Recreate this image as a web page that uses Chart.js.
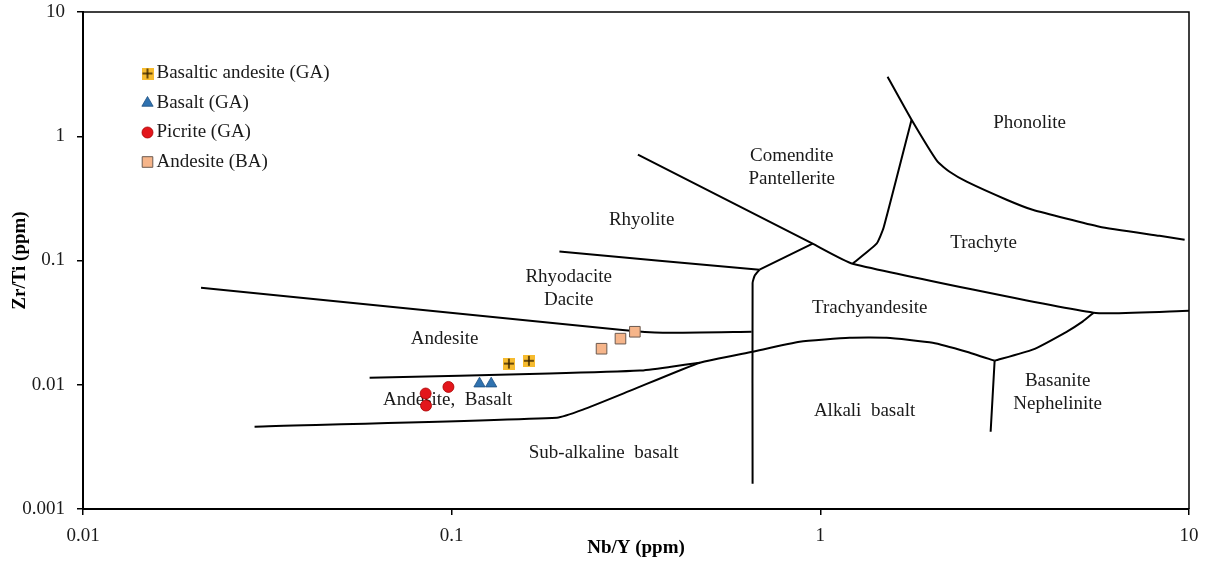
<!DOCTYPE html>
<html>
<head>
<meta charset="utf-8">
<script src="https://cdn.jsdelivr.net/npm/chart.js@4.4.0/dist/chart.umd.min.js"></script>
<style>
    html, body { margin: 0; padding: 0; background: #fff; }
</style>
</head>
<body>
<canvas id="graph" width="1211" height="565"></canvas>
<script>
// Деления осей
const xTickValues = [0.01, 0.1, 1, 10];
const xTickLabels = ['0.01', '0.1', '1', '10'];
const yTickValues = [0.001, 0.01, 0.1, 1, 10];
const yTickLabels = ['0.001', '0.01', '0.1', '1', '10'];

// Образцы: Nb/Y, Zr/Ti
const basalticAndesiteGA = [[0.143, 0.0148], [0.162, 0.0156]];
const basaltGA = [[0.119, 0.0102], [0.128, 0.0102]];
const picriteGA = [[0.085, 0.0085], [0.0852, 0.0068], [0.098, 0.0096]];
const andesiteBA = [[0.255, 0.0195], [0.287, 0.0235], [0.314, 0.0267]];

// Границы полей (Winchester & Floyd)
const lineAndesiteTop = [[0.0209, 0.0604], [0.286, 0.0277], [0.374, 0.0262], [0.651, 0.0267]];
const lineRhyolite = [[0.196, 0.118], [0.684, 0.0843]];
const lineComendite = [[0.320, 0.710], [0.953, 0.1365], [1.223, 0.0942], [5.51, 0.0380], [10, 0.0394]];
const lineDaciteTrachy = [[0.684, 0.0843], [0.953, 0.1365]];
const lineAlkaliVertical = [[0.684, 0.0843], [0.6635, 0.0754], [0.655, 0.066], [0.655, 0.0016]];
const lineTrachyte = [[1.223, 0.0942], [1.421, 0.1365], [1.485, 0.184], [1.768, 1.359]];
const linePhonolite = [[1.522, 3.015], [1.768, 1.359], [2.080, 0.624], [2.242, 0.518], [2.494, 0.431],
    [3.201, 0.3085], [3.765, 0.256], [5.72, 0.187], [8.32, 0.158], [9.73, 0.147]];
const lineSubAlkaline = [[0.0292, 0.0046], [0.193, 0.00543], [0.227, 0.0063], [0.310, 0.00913], [0.471, 0.01505],
    [0.655, 0.01845], [0.879, 0.0222], [1.201, 0.0239], [1.513, 0.0239], [2.017, 0.0218], [2.494, 0.01845], [2.970, 0.0156]];
const lineBasanite = [[2.970, 0.0156], [3.765, 0.01915], [4.656, 0.0267], [5.144, 0.0322], [5.51, 0.0380]];
const lineNephelinite = [[2.970, 0.0156], [2.897, 0.00419]];
const lineAndesiteBasalt = [[0.0599, 0.0114], [0.184, 0.0123], [0.324, 0.0130], [0.390, 0.0139], [0.471, 0.01505]];

// Названия полей и точки привязки (Nb/Y, Zr/Ti)
const zoneNames = ['Phonolite', ['Comendite', 'Pantellerite'], 'Rhyolite', ['Rhyodacite', 'Dacite'], 'Trachyte',
    'Trachyandesite', 'Andesite', 'Andesite,  Basalt', 'Alkali  basalt', ['Basanite', 'Nephelinite'], 'Sub-alkaline  basalt'];
const zoneAnchors = [[3.695, 1.285], [0.836, 0.558], [0.3275, 0.213], [0.2077, 0.0593], [2.773, 0.139],
    [1.361, 0.0417], [0.0957, 0.02348], [0.0975, 0.00758], [1.318, 0.00618], [4.402, 0.00863], [0.2584, 0.002838]];

const toPoints = (arr) => arr.map(([x, y]) => ({ x, y }));

// Квадрат с крестом для базальтового андезита
const crossSquare = document.createElement('canvas');
crossSquare.width = 12;
crossSquare.height = 12;
(() => {
    const c = crossSquare.getContext('2d');
    c.fillStyle = '#f6bb2f';
    c.fillRect(0, 0, 12, 12);
    c.strokeStyle = '#3a2400';
    c.lineWidth = 1.5;
    c.beginPath();
    c.moveTo(6, 1); c.lineTo(6, 11);
    c.moveTo(1, 6); c.lineTo(11, 6);
    c.stroke();
})();

const sampleSets = [
    { label: 'Basaltic andesite (GA)', data: toPoints(basalticAndesiteGA), pointStyle: crossSquare, pointRadius: 6,
      backgroundColor: '#f6bb2f', borderColor: '#3a2400', borderWidth: 0 },
    { label: 'Basalt (GA)', data: toPoints(basaltGA), pointStyle: 'triangle', pointRadius: 6.5,
      backgroundColor: '#2f72b0', borderColor: '#1d4f80', borderWidth: 0.8 },
    { label: 'Picrite (GA)', data: toPoints(picriteGA), pointStyle: 'circle', pointRadius: 5.5,
      backgroundColor: '#e3161b', borderColor: '#a80000', borderWidth: 0.8 },
    { label: 'Andesite (BA)', data: toPoints(andesiteBA), pointStyle: 'rect', pointRadius: 7.5,
      backgroundColor: '#f6b58a', borderColor: '#6b5a50', borderWidth: 1 }
];

const boundaryLines = [lineAndesiteTop, lineRhyolite, lineComendite, lineDaciteTrachy, lineAlkaliVertical,
    lineTrachyte, linePhonolite, lineSubAlkaline, lineBasanite, lineNephelinite, lineAndesiteBasalt];

var datasets = sampleSets.map((s) => Object.assign({ order: 0 }, s));
boundaryLines.forEach((line) => {
    datasets.push({
        data: toPoints(line),
        showLine: true,
        borderColor: '#000',
        borderWidth: 2,
        pointRadius: 0,
        pointHoverRadius: 0,
        tension: 0.15,
        order: 1
    });
});

// Рамка сверху и справа
const framePlugin = {
    id: 'frame',
    afterDraw(chart) {
        const { ctx, chartArea: a } = chart;
        ctx.save();
        ctx.strokeStyle = '#000';
        ctx.lineWidth = 1.5;
        ctx.beginPath();
        ctx.moveTo(a.left, a.top);
        ctx.lineTo(a.right, a.top);
        ctx.lineTo(a.right, a.bottom);
        ctx.stroke();
        ctx.restore();
    }
};

// Подписи полей диаграммы
const zonesPlugin = {
    id: 'zones',
    beforeDatasetsDraw(chart) {
        const { ctx, scales } = chart;
        ctx.save();
        ctx.font = '19px "Liberation Serif", "Times New Roman", serif';
        ctx.fillStyle = '#1a1a1a';
        ctx.textAlign = 'center';
        ctx.textBaseline = 'middle';
        zoneNames.forEach((name, i) => {
            const px = scales.x.getPixelForValue(zoneAnchors[i][0]);
            const py = scales.y.getPixelForValue(zoneAnchors[i][1]);
            const lines = Array.isArray(name) ? name : [name];
            const step = 23.5;
            lines.forEach((t, j) => {
                ctx.fillText(t, px, py + (j - (lines.length - 1) / 2) * step);
            });
        });
        ctx.restore();
    }
};

// Легенда внутри области графика
const legendPlugin = {
    id: 'innerLegend',
    afterDatasetsDraw(chart) {
        const { ctx } = chart;
        ctx.save();
        ctx.font = '19px "Liberation Serif", "Times New Roman", serif';
        ctx.textAlign = 'left';
        ctx.textBaseline = 'middle';
        sampleSets.forEach((s, i) => {
            const y = 73.5 + i * 29.5;
            ctx.fillStyle = s.backgroundColor;
            ctx.strokeStyle = s.borderColor;
            ctx.lineWidth = s.borderWidth;
            Chart.helpers.drawPoint(ctx, {
                pointStyle: s.pointStyle, radius: s.pointRadius, borderWidth: s.borderWidth, rotation: 0
            }, 147.5, y);
            ctx.fillStyle = '#1a1a1a';
            ctx.fillText(s.label, 156.5, y);
        });
        ctx.restore();
    }
};

Chart.defaults.font.family = '"Liberation Serif", "Times New Roman", serif';
Chart.defaults.font.size = 19;
Chart.defaults.color = '#1a1a1a';

var ctx = document.getElementById('graph').getContext('2d');
var Graph = new Chart(ctx, {
    type: 'scatter',
    data: { datasets: datasets },
    options: {
        responsive: false,
        animation: false,
        events: [],
        layout: { padding: { top: 12, right: 22, left: 0, bottom: 0 } },
        plugins: {
            legend: { display: false },
            tooltip: { enabled: false }
        },
        scales: {
            x: {
                type: 'logarithmic',
                min: 0.01,
                max: 10,
                afterFit: (s) => { s.height = 56; s.paddingLeft = 0; s.paddingRight = 0; },
                afterBuildTicks: (s) => { s.ticks = xTickValues.map((v) => ({ value: v })); },
                ticks: {
                    padding: 10,
                    maxRotation: 0,
                    callback: (v, i) => xTickLabels[i]
                },
                grid: { display: true, drawOnChartArea: false, drawTicks: true, tickLength: 6, color: '#000', lineWidth: 1.5 },
                border: { display: true, color: '#000', width: 2 },
                title: {
                    display: true,
                    text: 'Nb/Y (ppm)',
                    font: { size: 19, weight: 'bold' },
                    color: '#000',
                    padding: { top: 0, bottom: 6 }
                }
            },
            y: {
                type: 'logarithmic',
                min: 0.001,
                max: 10,
                afterFit: (s) => { s.width = 83; s.paddingTop = 0; s.paddingBottom = 0; },
                afterBuildTicks: (s) => { s.ticks = yTickValues.map((v) => ({ value: v })); },
                ticks: {
                    padding: 12,
                    callback: (v, i) => yTickLabels[i]
                },
                grid: { display: true, drawOnChartArea: false, drawTicks: true, tickLength: 6, color: '#000', lineWidth: 1.5 },
                border: { display: true, color: '#000', width: 2 },
                title: {
                    display: true,
                    text: 'Zr/Ti (ppm)',
                    font: { size: 19, weight: 'bold' },
                    color: '#000',
                    padding: { top: 9, bottom: 0 }
                }
            }
        }
    },
    plugins: [zonesPlugin, legendPlugin, framePlugin]
});
</script>
</body>
</html>
